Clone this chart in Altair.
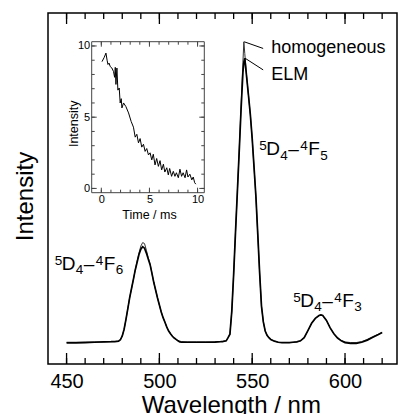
import altair as alt
import pandas as pd

# ---------------- data ----------------
wavelength = [450, 455, 460, 465, 470, 474, 476, 478, 479, 480, 481, 482, 483, 484, 485,
              486, 487, 488, 489, 490, 491, 492, 493, 494, 495, 496, 497, 498, 499, 500,
              501, 502, 503, 504, 505, 506, 507, 508, 509, 510, 511, 512, 515, 520, 525,
              530, 533, 534, 535, 536, 537, 538, 539, 540, 541, 542, 543, 544, 545, 545.5,
              546, 547, 548, 549, 550, 551, 552, 553, 554, 555, 556, 557, 558, 559, 560,
              562, 564, 566, 568, 570, 572, 574, 576, 578, 580, 582, 584, 586, 587, 588,
              590, 592, 594, 596, 598, 600, 603, 606, 609, 612, 615, 618, 620]
homogeneous = [6.2, 6.2, 6.25, 6.3, 6.3, 6.35, 6.4, 6.5, 6.9, 8.0, 9.9, 12.7, 15.8, 18.9, 21.5,
               24.1, 26.8, 29.3, 31.6, 33.6, 34.6, 34.3, 32.4, 30.3, 28.5, 25.8, 23.2, 21.0, 18.8, 16.8,
               14.8, 13.2, 11.9, 10.5, 9.4, 8.6, 7.9, 7.4, 7.0, 6.7, 6.5, 6.4, 6.3, 6.3, 6.3,
               6.35, 6.4, 6.4, 6.5, 6.6, 7.5, 8.5, 15.0, 25.5, 37.5, 49.0, 61.0, 73.5, 86.0, 91.8,
               88.5, 82.0, 76.5, 71.0, 64.2, 56.0, 47.7, 37.0, 26.0, 16.5, 12.0, 9.4, 8.2, 7.5, 7.0,
               6.5, 6.2, 6.1, 6.1, 6.1, 6.2, 6.3, 6.6, 7.5, 9.5, 11.6, 13.0, 13.8, 14.0, 13.8,
               12.4, 10.3, 8.6, 7.4, 6.7, 6.3, 6.1, 6.1, 6.4, 7.0, 7.8, 8.5, 9.0]
elm = [6.0, 6.0, 6.1, 6.2, 6.3, 6.35, 6.4, 6.5, 6.9, 8.0, 9.9, 12.7, 15.8, 18.9, 21.5,
       24.1, 26.8, 29.0, 31.2, 32.7, 33.4, 33.0, 31.6, 29.9, 28.3, 25.8, 23.2, 21.0, 18.8, 16.8,
       14.8, 13.2, 11.9, 10.5, 9.4, 8.6, 7.9, 7.4, 7.0, 6.6, 6.3, 6.2, 6.2, 6.2, 6.2,
       6.25, 6.35, 6.4, 6.5, 6.6, 7.5, 8.5, 15.0, 25.5, 37.5, 49.0, 60.5, 72.5, 83.0, 86.0,
       87.1, 81.8, 76.5, 71.0, 64.2, 56.0, 47.7, 37.0, 26.0, 16.5, 12.0, 9.4, 8.2, 7.5, 7.0,
       6.5, 6.2, 6.1, 6.1, 6.1, 6.2, 6.3, 6.6, 7.5, 9.5, 11.6, 13.0, 13.8, 14.0, 13.8,
       12.4, 10.3, 8.6, 7.4, 6.6, 6.1, 5.9, 5.9, 6.2, 6.8, 7.6, 8.4, 9.0]

time_ms = [0.07, 0.3, 0.48, 0.6, 0.69, 0.8, 0.93, 1.1, 1.27, 1.38, 1.45, 1.52, 1.62, 1.72, 1.86,
           1.96, 2.07, 2.14, 2.31, 2.55, 2.83, 3.1, 3.34, 3.52, 3.69, 3.86, 4.03, 4.2, 4.38, 4.55,
           4.72, 4.9, 5.07, 5.24, 5.4, 5.58, 5.75, 5.93, 6.1, 6.27, 6.45, 6.6, 6.8, 6.96, 7.1,
           7.3, 7.48, 7.65, 7.8, 8.0, 8.17, 8.34, 8.5, 8.7, 8.86, 9.0, 9.2, 9.4, 9.55, 9.7, 9.82]
decay = [8.9, 9.2, 9.5, 9.0, 8.7, 8.8, 8.55, 8.45, 8.2, 7.8, 8.5, 7.3, 8.45, 6.9, 7.05,
         6.0, 6.3, 5.65, 6.0, 5.75, 5.3, 4.7, 4.3, 3.6, 3.8, 3.2, 3.5, 2.9, 3.1, 2.6,
         2.8, 2.35, 2.5, 2.0, 2.4, 1.65, 2.1, 1.55, 1.95, 1.3, 1.7, 1.15, 1.45, 0.95, 1.4,
         0.85, 1.2, 0.85, 1.1, 0.75, 1.35, 0.85, 1.1, 0.75, 1.3, 0.8, 1.0, 0.6, 0.8, 0.4, 0.3]

series_names = ["homogeneous", "ELM"]
leader_from_x = [545.7, 546.2]
leader_from_y = [91.8, 87.1]
leader_to_x = [555.9, 555.9]
leader_to_y = [89.9, 83.8]
series_label_x = [560.3, 560.3]
series_label_y = [88.6, 80.9]

# transition labels  ^5 D _4 – ^4 F _j   (one entry per peak)
peak_label_x = [443.7, 553.8, 572.1]
peak_label_y = [26.8, 59.5, 16.3]
upper_sup = ["5", "5", "5"]
upper_letter = ["D", "D", "D"]
upper_sub = ["4", "4", "4"]
lower_sup = ["4", "4", "4"]
lower_letter = ["F", "F", "F"]
lower_sub = ["6", "5", "3"]

main_major = [450, 500, 550, 600]
main_minor = list(range(450, 621, 10))
inset_major = [0, 5, 10]
inset_minor = list(range(0, 11))

# ---------------- layout constants ----------------
W, H = 349, 351
X_DOM = [440, 628]
Y_DOM = [0, 100]
IX_DOM = [-1, 10.7]
IY_DOM = [-0.3, 10.3]
IX_RANGE = [43.7, 156.3]
IY_RANGE = [179.7, 28.7]
FONT = "Liberation Sans"
IC = "#444"

spec = pd.DataFrame({"wl": wavelength, "homog": homogeneous, "elm": elm})
dec = pd.DataFrame({"t": time_ms, "v": decay})
leaders = pd.DataFrame({"name": series_names, "x": leader_from_x, "y": leader_from_y,
                        "x2": leader_to_x, "y2": leader_to_y,
                        "lx": series_label_x, "ly": series_label_y})
peaks = pd.DataFrame({"x": peak_label_x, "y": peak_label_y,
                      "p1": upper_sup, "p2": upper_letter, "p3": upper_sub, "p4": ["–"] * 3,
                      "p5": lower_sup, "p6": lower_letter, "p7": lower_sub})
frame = pd.DataFrame({"x": [IX_DOM[0]], "x2": [IX_DOM[1]], "y": [IY_DOM[0]], "y2": [IY_DOM[1]]})


def xs():
    return alt.Scale(domain=X_DOM, nice=False, zero=False)


def ys():
    return alt.Scale(domain=Y_DOM, nice=False, zero=False)


def ixs():
    return alt.Scale(domain=IX_DOM, range=IX_RANGE, nice=False, zero=False)


def iys():
    return alt.Scale(domain=IY_DOM, range=IY_RANGE, nice=False, zero=False)


def vticks(values, scale, y0, y1, color="black", width=1.3):
    return alt.Chart(pd.DataFrame({"v": values})).mark_rule(color=color, strokeWidth=width).encode(
        x=alt.X("v:Q", scale=scale, axis=None), y=alt.value(y0), y2=alt.value(y1))


def hticks(values, scale, x0, x1, color="black", width=1.3):
    return alt.Chart(pd.DataFrame({"v": values})).mark_rule(color=color, strokeWidth=width).encode(
        y=alt.Y("v:Q", scale=scale, axis=None), x=alt.value(x0), x2=alt.value(x1))


# ---------------- main spectrum ----------------
homog_line = alt.Chart(spec).mark_line(color="#333", strokeWidth=1).encode(
    x=alt.X("wl:Q", scale=xs(), axis=alt.Axis(
        orient="bottom", values=main_major, ticks=False, tickSize=0, domain=False, grid=False,
        labelFontSize=20, labelFont=FONT, labelColor="black", labelPadding=23,
        labelBaseline="alphabetic",
        title="Wavelength / nm", titleFontSize=24, titleFont=FONT, titleFontWeight="normal",
        titleColor="black", titleX=182.8, titleY=48, titleAlign="center",
        titleBaseline="alphabetic")),
    y=alt.Y("homog:Q", scale=ys(), axis=alt.Axis(
        orient="left", labels=False, ticks=False, domain=False, grid=False,
        title="Intensity", titleFontSize=24, titleFont=FONT, titleFontWeight="normal",
        titleColor="black", titleAngle=270, titleX=-16, titleY=183, titleAlign="center",
        titleBaseline="alphabetic")),
)

elm_line = alt.Chart(spec).mark_line(color="black", strokeWidth=1.7).encode(
    x=alt.X("wl:Q", scale=xs(), axis=None),
    y=alt.Y("elm:Q", scale=ys(), axis=None),
)

main_ticks = [
    vticks(main_major, xs(), H, H - 11),
    vticks(main_minor, xs(), H, H - 6),
    vticks(main_major, xs(), 0, 11),
    vticks(main_minor, xs(), 0, 6),
]

leader_rules = alt.Chart(leaders).mark_rule(color="black", strokeWidth=1).encode(
    x=alt.X("x:Q", scale=xs(), axis=None), x2="x2:Q",
    y=alt.Y("y:Q", scale=ys(), axis=None), y2="y2:Q",
)
leader_text = alt.Chart(leaders).mark_text(
    align="left", baseline="alphabetic", fontSize=18, font=FONT, color="black"
).encode(
    x=alt.X("lx:Q", scale=xs(), axis=None),
    y=alt.Y("ly:Q", scale=ys(), axis=None),
    text="name:N",
)

# pieces of the transition labels: (field, dx, dy, size)
PIECES = [("p1", 0, -5, 13.5), ("p2", 7, 0, 19), ("p3", 21, 4.5, 13.5), ("p4", 29, 0, 19),
          ("p5", 41, -5, 13.5), ("p6", 49, 0, 19), ("p7", 61, 4.5, 13.5)]
peak_text = [
    alt.Chart(peaks).mark_text(
        align="left", baseline="alphabetic", fontSize=size, font=FONT, color="black",
        dx=dx, dy=dy
    ).encode(
        x=alt.X("x:Q", scale=xs(), axis=None),
        y=alt.Y("y:Q", scale=ys(), axis=None),
        text=f"{field}:N",
    )
    for field, dx, dy, size in PIECES
]

# ---------------- inset ----------------
inset_frame = alt.Chart(frame).mark_rect(fill="white", stroke=IC, strokeWidth=1).encode(
    x=alt.X("x:Q", scale=ixs(), axis=alt.Axis(
        orient="bottom", offset=-(H - IY_RANGE[0]), values=inset_major, ticks=False, tickSize=0,
        domain=False, grid=False, labelFontSize=11, labelFont=FONT, labelColor="black",
        labelPadding=10, labelBaseline="alphabetic",
        title="Time / ms", titleFontSize=12.5, titleFont=FONT, titleFontWeight="normal",
        titleColor="black", titleX=101, titleY=25.3, titleAlign="center",
        titleBaseline="alphabetic")),
    x2="x2:Q",
    y=alt.Y("y:Q", scale=iys(), axis=alt.Axis(
        orient="left", offset=-IX_RANGE[0], values=inset_major, ticks=False, tickSize=0,
        domain=False, grid=False, labelFontSize=11, labelFont=FONT, labelColor="black",
        labelPadding=2,
        title="Intensity", titleFontSize=12.5, titleFont=FONT, titleFontWeight="normal",
        titleColor="black", titleAngle=270, titleX=-14.2, titleY=110.3, titleAlign="center",
        titleBaseline="alphabetic")),
    y2="y2:Q",
)

inset_ticks = [
    vticks(inset_major, ixs(), IY_RANGE[0], IY_RANGE[0] - 5, IC, 1),
    vticks(inset_minor, ixs(), IY_RANGE[0], IY_RANGE[0] - 3, IC, 1),
    vticks(inset_major, ixs(), IY_RANGE[1], IY_RANGE[1] + 5, IC, 1),
    vticks(inset_minor, ixs(), IY_RANGE[1], IY_RANGE[1] + 3, IC, 1),
    hticks(inset_major, iys(), IX_RANGE[0], IX_RANGE[0] + 5, IC, 1),
    hticks(inset_minor, iys(), IX_RANGE[0], IX_RANGE[0] + 3, IC, 1),
    hticks(inset_major, iys(), IX_RANGE[1], IX_RANGE[1] - 5, IC, 1),
    hticks(inset_minor, iys(), IX_RANGE[1], IX_RANGE[1] - 3, IC, 1),
]

decay_line = alt.Chart(dec).mark_line(color="black", strokeWidth=1).encode(
    x=alt.X("t:Q", scale=ixs(), axis=None),
    y=alt.Y("v:Q", scale=iys(), axis=None),
)

chart = alt.layer(
    homog_line, elm_line, *main_ticks,
    inset_frame, *inset_ticks, decay_line,
    leader_rules, leader_text, *peak_text,
).resolve_scale(
    x="independent", y="independent"
).resolve_axis(
    x="independent", y="independent"
).properties(
    width=W, height=H,
    autosize=alt.AutoSizeParams(type="none"),
    padding={"left": 48, "top": 13, "right": 1, "bottom": 50},
    background="white",
).configure_view(
    stroke="black", strokeWidth=1.5
)

chart.save("out.html", embed_options={"renderer": "svg", "actions": False})
